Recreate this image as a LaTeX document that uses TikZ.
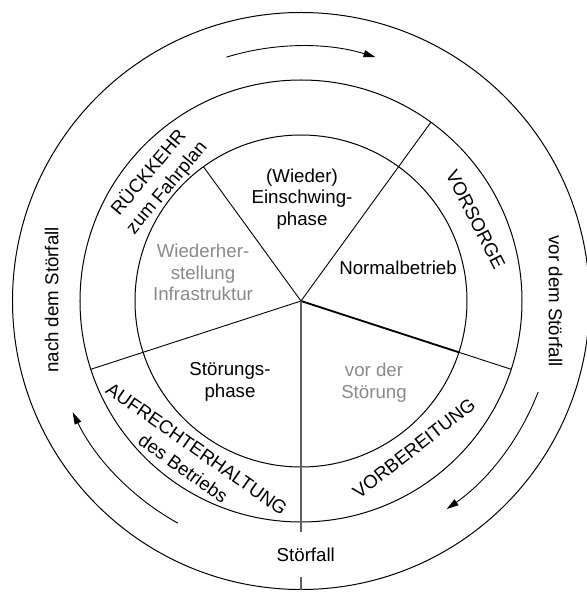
\documentclass[tikz,border=0pt]{standalone}
\usepackage{fontspec}
\setmainfont{Liberation Sans}
\usetikzlibrary{arrows.meta}
\definecolor{softgray}{RGB}{138,138,138}
\definecolor{axisgray}{RGB}{95,95,95}
\begin{document}
\begin{tikzpicture}[x=1pt,y=1pt,
  font=\fontsize{18.7}{21.5}\selectfont,
  ring/.style={draw=black, line width=1pt},
  spoke/.style={draw=black, line width=0.9pt},
  flow/.style={draw=black, line width=0.9pt, -{Triangle[length=12pt,width=7pt]}},
  lbl/.style={inner sep=0pt, align=center},
  pale/.style={lbl, text=softgray},
  arcpair/.style={lbl, font=\fontsize{18.7}{23.5}\selectfont}]
\useasboundingbox (-301,-293) rectangle (285,301);
\coordinate (c) at (0,0);
% circles
\draw[ring] (c) circle (166);
\draw[ring] (c) circle (221);
\draw[ring] (c) circle (288.5);
% spokes
\foreach \a in {54,198,342} \draw[spoke] (c) -- (\a:221);
\draw[spoke] (c) -- (126:166);
\draw[line width=1.8pt] (c) -- (342:166);
\draw[axisgray, line width=1.3pt] (c) -- (270:230.7);
\draw[axisgray, line width=1.3pt] (270:276) -- (270:288.5);
% direction arrows
\draw[flow] (107:255) arc[start angle=107, end angle=73, radius=255];
\draw[flow] (241:254) arc[start angle=241, end angle=206, radius=254];
\draw[flow] (339:254) arc[start angle=339, end angle=305, radius=254];
% inner sectors
\node[lbl] (einschwing) at (1,102) {(Wieder)\\Einschwing-\\phase};
\node[lbl] (normal) at (97,33) {Normalbetrieb};
\node[pale] (wiederher) at (-98,28.5) {Wiederher-\\stellung\\Infrastruktur};
\node[lbl] (stoerphase) at (-71,-81) {Störungs-\\phase};
\node[pale] (vorder) at (73,-81.5) {vor der\\Störung};
% middle ring
\node[arcpair, rotate=50] (rueckkehr) at (-143.4,121) {RÜCKKEHR\\zum Fahrplan};
\node[lbl, rotate=-63] (vorsorge) at (174.7,81) {VORSORGE};
\node[lbl, rotate=38] (vorbereitung) at (113,-147.3) {VORBEREITUNG};
\node[arcpair, rotate=-35] (aufrecht) at (-111,-157.7) {AUFRECHTERHALTUNG\\des Betriebs};
% outer ring
\node[lbl, rotate=90] (nach) at (-249.3,1) {nach dem Störfall};
\node[lbl, rotate=-90] (vor) at (254.5,0) {vor dem Störfall};
\node[lbl, anchor=base] (stoerfall) at (4.8,-260) {Störfall};
\end{tikzpicture}
\end{document}
